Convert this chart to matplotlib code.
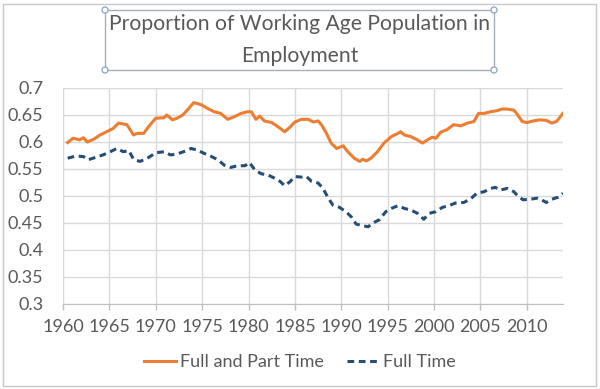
import matplotlib
matplotlib.use("Agg")
import matplotlib.pyplot as plt
from matplotlib.patches import Rectangle, Circle
from matplotlib.ticker import FuncFormatter, MultipleLocator

plt.rcParams['font.family'] = ['Lato', 'DejaVu Sans']

# values (year, proportion)
years_fpt = [1960.5, 1961.1, 1961.8, 1962.2, 1962.6, 1963.3, 1964.0, 1964.7, 1965.4, 1966.0,
             1966.9, 1967.6, 1968.0, 1968.7, 1969.2, 1970.0, 1970.9, 1971.2, 1971.8, 1972.3,
             1972.9, 1973.4, 1974.1, 1974.9, 1975.6, 1976.3, 1977.0, 1977.75, 1978.5, 1979.2,
             1979.9, 1980.3, 1980.8, 1981.2, 1981.7, 1982.5, 1983.2, 1983.9, 1984.5, 1985.0,
             1985.7, 1986.4, 1987.0, 1987.5, 1987.9, 1988.4, 1988.9, 1989.5, 1990.2, 1990.7,
             1991.4, 1992.0, 1992.3, 1992.7, 1993.2, 1993.9, 1994.6, 1995.4, 1996.1, 1996.4,
             1996.8, 1997.5, 1998.2, 1998.75, 1999.3, 1999.8, 2000.2, 2000.7, 2001.4, 2002.1,
             2002.9, 2003.6, 2004.3, 2004.8, 2005.4, 2006.1, 2006.8, 2007.3, 2007.9, 2008.6,
             2008.9, 2009.5, 2010.0, 2010.7, 2011.4, 2012.1, 2012.7, 2013.2, 2013.9]
full_part_time = [0.599, 0.607, 0.604, 0.608, 0.600, 0.605, 0.613, 0.619, 0.625, 0.635,
                  0.632, 0.613, 0.616, 0.616, 0.628, 0.644, 0.645, 0.650, 0.641, 0.644,
                  0.650, 0.659, 0.673, 0.669, 0.662, 0.656, 0.653, 0.642, 0.647, 0.653,
                  0.656, 0.656, 0.642, 0.648, 0.639, 0.636, 0.628, 0.619, 0.628, 0.637,
                  0.642, 0.642, 0.637, 0.639, 0.631, 0.616, 0.598, 0.588, 0.593, 0.582,
                  0.570, 0.564, 0.568, 0.565, 0.570, 0.582, 0.598, 0.610, 0.616, 0.619,
                  0.613, 0.610, 0.604, 0.598, 0.604, 0.609, 0.607, 0.618, 0.623, 0.632,
                  0.630, 0.635, 0.638, 0.653, 0.653, 0.656, 0.658, 0.661, 0.661, 0.659,
                  0.653, 0.638, 0.636, 0.639, 0.641, 0.640, 0.635, 0.638, 0.653]

years_ft = [1960.5, 1961.4, 1962.2, 1962.7, 1963.6, 1964.3, 1965.1, 1965.8, 1966.5, 1967.1,
            1967.6, 1968.3, 1969.1, 1970.0, 1970.9, 1971.6, 1972.3, 1973.0, 1973.8, 1974.5,
            1975.2, 1975.9, 1976.7, 1977.4, 1978.1, 1978.8, 1979.6, 1980.1, 1980.7, 1981.4,
            1982.1, 1982.8, 1983.4, 1983.9, 1984.5, 1985.0, 1985.7, 1986.25, 1986.8, 1987.5,
            1988.0, 1988.6, 1989.1, 1989.8, 1990.5, 1991.1, 1991.6, 1992.3, 1992.9, 1993.4,
            1994.1, 1994.8, 1995.4, 1996.1, 1996.8, 1997.5, 1998.2, 1998.9, 1999.5, 2000.2,
            2000.9, 2001.6, 2002.3, 2003.2, 2003.9, 2004.6, 2005.4, 2006.1, 2006.6, 2007.1,
            2007.9, 2008.6, 2009.1, 2009.6, 2010.4, 2011.1, 2011.6, 2012.1, 2012.7, 2013.4,
            2013.9]
full_time = [0.570, 0.574, 0.573, 0.567, 0.572, 0.576, 0.582, 0.588, 0.582, 0.584,
             0.568, 0.564, 0.570, 0.580, 0.582, 0.576, 0.578, 0.582, 0.588, 0.585,
             0.579, 0.574, 0.567, 0.557, 0.553, 0.556, 0.556, 0.562, 0.548, 0.541,
             0.539, 0.533, 0.527, 0.519, 0.527, 0.536, 0.535, 0.536, 0.527, 0.524,
             0.515, 0.496, 0.483, 0.479, 0.471, 0.461, 0.448, 0.445, 0.443, 0.450,
             0.456, 0.471, 0.477, 0.482, 0.477, 0.474, 0.468, 0.457, 0.468, 0.471,
             0.479, 0.482, 0.487, 0.488, 0.494, 0.505, 0.508, 0.514, 0.516, 0.511,
             0.514, 0.508, 0.499, 0.493, 0.494, 0.496, 0.493, 0.488, 0.494, 0.498,
             0.505]

x_ticks = list(range(1960, 2011, 5))
title = "Proportion of Working Age Population in\nEmployment"

orange = "#ED7D31"
navy = "#264D73"
txt = "#595959"
grid = "#D9D9D9"

fig = plt.figure(figsize=(6, 3.89), dpi=100)
ax = fig.add_axes([63 / 600, 1 - 304 / 389, 500 / 600, 216 / 389])

ax.plot(years_fpt, full_part_time, color=orange, lw=2.2, label="Full and Part Time")
ax.plot(years_ft, full_time, color=navy, lw=2.2, ls=(0, (2.2, 1.5)), label="Full Time")

ax.set_xlim(1960, 2013.9)
ax.set_ylim(0.3, 0.7)
ax.set_xticks(x_ticks)
ax.yaxis.set_major_locator(MultipleLocator(0.05))
ax.yaxis.set_major_formatter(FuncFormatter(lambda v, p: f"{v:.2f}".rstrip("0").rstrip(".")))
ax.grid(True, color=grid, lw=1)
ax.set_axisbelow(True)
for s in ["top", "right"]:
    ax.spines[s].set_visible(False)
ax.spines["left"].set_color(grid)
ax.spines["bottom"].set_color("#BFBFBF")
ax.tick_params(axis="x", colors="#BFBFBF", length=4, width=1, pad=7, labelcolor=txt, labelsize=13)
ax.tick_params(axis="y", length=0, pad=14, labelcolor=txt, labelsize=13)

leg = fig.legend(loc="center", bbox_to_anchor=(0.5, 1 - 362 / 389), ncol=2, frameon=False,
                 fontsize=13, handlelength=1.8, handletextpad=0.2, columnspacing=1.3)
for t in leg.get_texts():
    t.set_color(txt)

# title with its selection box
fig.text(0.5, 1 - 40 / 389, title, ha="center", va="center", fontsize=15.2,
         color=txt, linespacing=1.8)
box = Rectangle((105 / 600, 1 - 70 / 389), 389 / 600, 60 / 389, transform=fig.transFigure,
                fill=False, ec="#A6AEB8", lw=1)
fig.patches.append(box)
for cx, cy in [(105, 10), (494, 10), (105, 70), (494, 70)]:
    fig.patches.append(Circle((cx, 389 - cy), 3, transform=None, fc="white",
                              ec="#8EA4BC", lw=0.9, zorder=5))

# outer chart frame
fig.patches.append(Rectangle((3 / 600, 3 / 389), 593 / 600, 382 / 389,
                             transform=fig.transFigure, fill=False, ec="#C8C8C8", lw=1))

fig.savefig("out.png", dpi=100)
